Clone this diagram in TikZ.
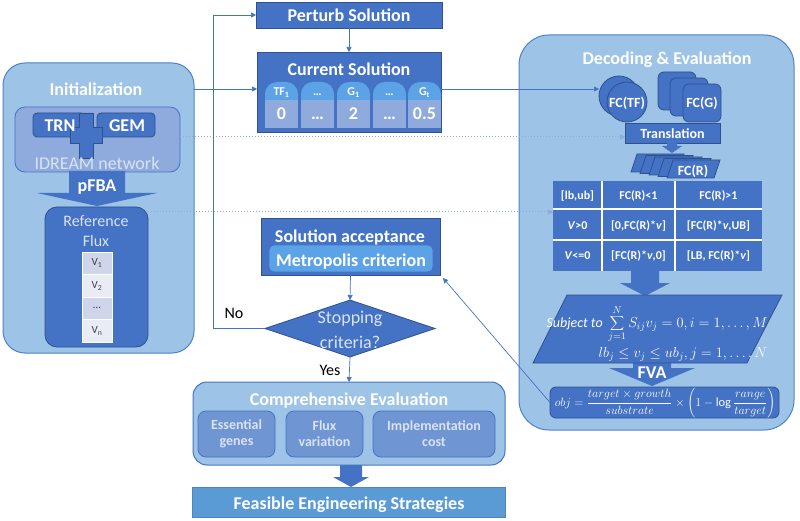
\documentclass[tikz,border=0pt]{standalone}
\usepackage{fontspec}
\setmainfont{Carlito}
\usetikzlibrary{arrows.meta,calc,shapes.geometric}
\definecolor{lb}{HTML}{9DC3E6}
\definecolor{lbB}{HTML}{4E83C4}
\definecolor{db}{HTML}{4472C4}
\definecolor{dbB}{HTML}{2F528F}
\definecolor{mid}{HTML}{8FAADC}
\definecolor{capc}{HTML}{5BA3E6}
\definecolor{subc}{HTML}{7095D3}
\definecolor{txl}{HTML}{DAE3F3}
\definecolor{connc}{HTML}{4472C4}
\definecolor{dotcol}{HTML}{8FAADC}
\definecolor{feas}{HTML}{5B9BD5}
\definecolor{vA}{HTML}{CFD5EA}
\definecolor{vB}{HTML}{E9EBF5}
\newcommand\fA{\fontsize{18}{20}\selectfont}
\newcommand\fB{\fontsize{16}{18}\selectfont}
\newcommand\fC{\fontsize{14}{16}\selectfont}
\newcommand\fD{\fontsize{12}{14}\selectfont}
\newcommand\fE{\fontsize{11}{13}\selectfont}
\newcommand\fF{\fontsize{12.5}{14}\selectfont}
\begin{document}
\begin{tikzpicture}[x=1pt,y=-1pt,
  big/.style={draw=lbB, line width=1pt, fill=lb, rounded corners=22pt, inner sep=0pt, outer sep=0pt},
  dark/.style={draw=dbB, line width=0.8pt, fill=db, inner sep=0pt, outer sep=0pt},
  conn/.style={draw=connc, line width=0.7pt, -{Triangle[length=5pt,width=5pt]}},
  dotc/.style={draw=dotcol, line width=1pt, dotted, -{Triangle[length=5pt,width=5pt]}},
  ttl/.style={font=\fA\bfseries, text=white, inner sep=0pt},
  ttlc/.style={font=\fC\bfseries, text=white, inner sep=0pt},
]
\useasboundingbox (0,0) rectangle (800,521);

% ===== Initialization =====
\node[big, minimum width=191pt, minimum height=290pt] (init) at (98.5,208) {};
\node[ttl, anchor=base] (initT) at (96,96) {Initialization};
\node[fill=mid, draw=db, line width=0.8pt, rounded corners=10pt, minimum width=165pt, minimum height=65pt, inner sep=0pt, outer sep=0pt] (idr) at (97.5,139.5) {};
\node[dark, rounded corners=4pt, minimum width=52pt, minimum height=24pt] (trn) at (59,125) {};
\node[dark, rounded corners=4pt, minimum width=58pt, minimum height=24pt] (gem) at (126,125) {};
\draw[dark] (79,113) -- (93,113) -- (93,127) -- (102,127) -- (102,143) -- (93,143) -- (93,158) -- (79,158) -- (79,143) -- (70,143) -- (70,127) -- (79,127) -- cycle;
\node[ttl, anchor=base] (trnT) at (60,132) {TRN};
\node[ttl, anchor=base] (gemT) at (127,132) {GEM};
\node[font=\fA, text=txl, inner sep=0pt, anchor=base] (idrT) at (97,170) {IDREAM network};
\fill[db] (69,171) -- (125,171) -- (125,193) -- (157,193) -- (97,206) -- (37,193) -- (69,193) -- cycle;
\node[ttl, anchor=base] (pfba) at (97,192) {pFBA};
\node[dark, rounded corners=12pt, minimum width=103pt, minimum height=140pt] (ref) at (96.5,277) {};
\node[font=\fB, text=txl, inner sep=0pt, anchor=base] (refT1) at (96,227) {Reference};
\node[font=\fB, text=txl, inner sep=0pt, anchor=base] (refT2) at (96,247) {Flux};
\foreach \y/\c/\t [count=\i] in {263.25/vA/V\textsubscript{1}, 285.75/vB/V\textsubscript{2}, 308.25/vA/\ldots, 330.75/vB/V\textsubscript{n}}
  \node[fill=\c, draw=white, line width=0.6pt, minimum width=30pt, minimum height=22.5pt, inner sep=0pt, font=\fE, text=black!75] (v\i) at (97,\y) {\t};

% ===== Middle column =====
\node[dark, minimum width=186pt, minimum height=26pt] (pert) at (349,15) {};
\node[ttl, anchor=base] (pertT) at (349,22) {Perturb Solution};
\node[dark, minimum width=184pt, minimum height=80pt] (cs) at (349,92) {};
\node[ttl, anchor=base] (csT) at (349,76) {Current Solution};
\foreach \x/\a/\b [count=\i] in {281.5/TF\textsubscript{1}/0, 317.5/\ldots/\ldots, 353.5/G\textsubscript{1}/2, 389.5/\ldots/\ldots, 424.5/G\textsubscript{t}/0.5}{
  \node[fill=capc, rounded corners=12pt, minimum width=33pt, minimum height=30pt, inner sep=0pt] (cap\i) at (\x,97) {};
  \node[fill=mid, minimum width=33pt, minimum height=28pt, inner sep=0pt] (low\i) at (\x,114) {};
  \node[font=\fD\bfseries, text=white, inner sep=0pt, anchor=base] (capT\i) at (\x,96) {\a};
  \node[ttl, anchor=base] (lowT\i) at (\x,120) {\b};
}

\node[dark, minimum width=179pt, minimum height=57pt] (acc) at (350.5,246.5) {};
\node[ttl, anchor=base] (accT) at (350,243) {Solution acceptance};
\node[fill=capc, draw=db, line width=0.8pt, rounded corners=5pt, minimum width=164pt, minimum height=27pt, inner sep=0pt] (metro) at (351,258.5) {};
\node[ttl, anchor=base] (metroT) at (351,266) {Metropolis criterion};

\node[dark, diamond, minimum width=170pt, minimum height=57pt] (dia) at (350,328.5) {};
\node[font=\fA, text=txl, inner sep=0pt, anchor=base] (diaT1) at (350,323) {Stopping};
\node[font=\fA, text=txl, inner sep=0pt, anchor=base] (diaT2) at (350,348) {criteria?};
\node[font=\fB, inner sep=0pt, anchor=base] (no) at (234,318) {No};
\node[font=\fB, inner sep=0pt, anchor=base] (yes) at (330,375) {Yes};

\node[big, draw=db, rounded corners=14pt, minimum width=312pt, minimum height=83pt] (comp) at (349,423.5) {};
\node[ttl, anchor=base] (compT) at (349,405) {Comprehensive Evaluation};
\node[fill=subc, draw=db, line width=0.8pt, rounded corners=8pt, minimum width=77pt, minimum height=46pt, inner sep=0pt, font=\fC\bfseries, text=txl, align=center] (ess) at (236.5,434) {Essential\\genes};
\node[fill=subc, draw=db, line width=0.8pt, rounded corners=8pt, minimum width=77pt, minimum height=46pt, inner sep=0pt, font=\fC\bfseries, text=txl, align=center] (fv) at (324.5,434) {Flux\\variation};
\node[fill=subc, draw=db, line width=0.8pt, rounded corners=8pt, minimum width=122pt, minimum height=46pt, inner sep=0pt, font=\fC\bfseries, text=txl, align=center] (imp) at (434,434) {Implementation\\cost};
\fill[db] (340,465) -- (362,465) -- (362,477) -- (369,477) -- (351,487) -- (333,477) -- (340,477) -- cycle;
\node[fill=feas, draw=lbB, line width=0.8pt, minimum width=313pt, minimum height=30pt, inner sep=0pt] (feasb) at (348.5,502) {};
\node[ttl, anchor=base] (feasT) at (349,509) {Feasible Engineering Strategies};

% ===== Decoding & Evaluation =====
\node[big, rounded corners=30pt, minimum width=275pt, minimum height=395pt] (dec) at (656.5,232.5) {};
\node[ttl, anchor=base] (decT) at (667,65) {Decoding \& Evaluation};
\node[dark, circle, minimum size=40pt] (tfb) at (619,96) {};
\node[dark, circle, minimum size=40pt] (tff) at (627,102) {};
\node[ttlc, anchor=base] (tfT) at (627,108) {FC(TF)};
\node[dark, rounded corners=6pt, minimum width=38pt, minimum height=38pt] (g1) at (677,91) {};
\node[dark, rounded corners=6pt, minimum width=38pt, minimum height=38pt] (g2) at (689,97) {};
\node[dark, rounded corners=6pt, minimum width=38pt, minimum height=38pt] (g3) at (702,103) {};
\node[ttlc, anchor=base] (gT) at (702,108) {FC(G)};
\node[dark, minimum width=95pt, minimum height=20pt] (trans) at (672.5,133) {};
\node[ttlc, anchor=base] (transT) at (672.5,139) {Translation};
\fill[db] (667,143) -- (677,143) -- (677,146) -- (682,146) -- (672,153) -- (662,146) -- (667,146) -- cycle;
\foreach \k in {0,1,2,3,4}{
  \pgfmathsetmacro\dx{9*\k-36}
  \pgfmathsetmacro\dy{1.5*\k-6}
  \draw[dark] (673+\dx,160+\dy) -- (720+\dx,160+\dy) -- (714+\dx,178+\dy) -- (667+\dx,178+\dy) -- cycle;
}
\node[ttlc, anchor=base] (fcrT) at (693,176) {FC(R)};

\node[fill=db, minimum width=209pt, minimum height=90pt, inner sep=0pt, outer sep=0pt] (tab) at (657.5,226) {};
\draw[white, line width=1.2pt] (602,181) -- (602,271) (675,181) -- (675,271) (553,209) -- (762,209) (553,240) -- (762,240);
\begin{scope}[every node/.style={font=\fD\bfseries, text=white, inner sep=0pt, anchor=base}]
\node (c11) at (577.5,200) {[lb,ub]};
\node (c12) at (638.5,200) {FC(R)<1};
\node (c13) at (718.5,200) {FC(R)>1};
\node (c21) at (577.5,230) {\textit{V}>0};
\node (c22) at (638.5,230) {[0,FC(R)*\textit{v}]};
\node (c23) at (718.5,230) {[FC(R)*\textit{v},UB]};
\node (c31) at (577.5,260) {\textit{V}<=0};
\node (c32) at (638.5,260) {[FC(R)*\textit{v},0]};
\node (c33) at (718.5,260) {[LB, FC(R)*\textit{v}]};
\end{scope}
\fill[db] (631,271) -- (659,271) -- (659,283) -- (670,283) -- (645,296) -- (620,283) -- (631,283) -- cycle;
\fill[db] (633,360) -- (671,360) -- (671,368) -- (695,368) -- (652,386) -- (609,368) -- (633,368) -- cycle;
\draw[dark] (567,295) -- (782,295) -- (747,363) -- (533,363) -- cycle;
\node[font=\fC, text=white, inner sep=0pt, anchor=base] (eq1) at (657,327) {$\mathit{Subject\ to}\ \displaystyle\sum_{j=1}^{N} S_{ij}v_j=0, i=1,\ldots,M$};
\node[font=\fC, text=white, inner sep=0pt, anchor=base] (eq2) at (683,357) {$lb_j\le v_j\le ub_j, j=1,\ldots,N$};
\node[ttl, anchor=base] (fva) at (652,378) {FVA};
\node[dark, rounded corners=6pt, minimum width=229pt, minimum height=31pt] (obj) at (664.5,402.5) {};
\node[font=\fF, text=white, inner sep=0pt] (objT) at (665,403) {$\displaystyle obj=\frac{target\times growth}{substrate}\times\left(1-\log\frac{range}{target}\right)$};

% ===== Connectors =====
\coordinate (r1) at (0,89);
\coordinate (r2) at (0,137);
\coordinate (r3) at (0,212);
\coordinate (fbx) at (213,0);
\draw[conn] (init.east |- r1) -- (cs.west |- r1);
\draw[conn] (cs.east |- r1) -- (tfb.west |- r1);
\draw[conn] (pert.south) -- (cs.north);
\draw[dotc] (idr.east |- r2) -- (trans.west |- r2);
\draw[dotc] (ref.east |- r3) -- (tab.west |- r3);
\draw[conn] (dia.west) -- (dia.west -| fbx) -- (pert.west -| fbx) -- (pert.west);
\draw[conn] (acc.south) -- (dia.north);
\draw[conn] (dia.south) -- (comp.north);
\draw[conn] (obj.west) -- ($(acc.south east)+(3,3)$);
\end{tikzpicture}
\end{document}
